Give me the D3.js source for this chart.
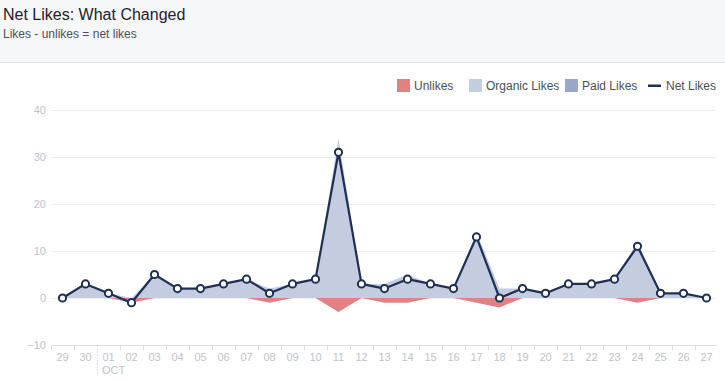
<!DOCTYPE html>
<html>
<head>
<meta charset="utf-8">
<script src="https://cdn.jsdelivr.net/npm/d3@7"></script>
<style>
  body { margin: 0; background: #fff; font-family: "Liberation Sans", Arial, sans-serif; }
  svg { display: block; }
</style>
</head>
<body>
<script>
'use strict';

// data
const days = ['29', '30', '01', '02', '03', '04', '05', '06', '07', '08', '09', '10', '11', '12',
    '13', '14', '15', '16', '17', '18', '19', '20', '21', '22', '23', '24', '25', '26', '27'];
const netLikes = [0, 3, 1, -1, 5, 2, 2, 3, 4, 1, 3, 4, 31, 3, 2, 4, 3, 2, 13, 0, 2, 1, 3, 3, 4, 11, 1, 1, 0];
const unlikes  = [0, 0, 0, 1, 0, 0, 0, 0, 0, 1, 0, 0, 3, 0, 1, 1, 0, 0, 1, 2, 0, 0, 0, 0, 0, 1, 0, 0, 0];
const paidLikes = [0, 0, 0, 0, 0, 0, 0, 0, 0, 0, 0, 0, 0, 0, 0, 0, 0, 0, 0, 0, 0, 0, 0, 0, 0, 0, 0, 0, 0];
const yTicks = [-10, 0, 10, 20, 30, 40];
const monthLabel = 'OCT';
const monthStart = '01';

const W = 725, H = 380;
const svg = d3.select('body').append('svg').attr('width', W).attr('height', H);

// header
svg.append('rect').attr('width', W).attr('height', 62).attr('fill', '#f6f7f9');
svg.append('line').attr('x1', 0).attr('x2', W).attr('y1', 62.5).attr('y2', 62.5)
    .attr('stroke', '#dddfe2');
svg.append('text').attr('x', 3).attr('y', 20).text('Net Likes: What Changed')
    .style('font-size', '16px').attr('fill', '#1d2129');
svg.append('text').attr('x', 3).attr('y', 38).text('Likes - unlikes = net likes')
    .style('font-size', '12px').attr('fill', '#4b4f56');

const data = days.map((d, i) => ({
    day: d,
    net: netLikes[i],
    unlikes: unlikes[i],
    paid: paidLikes[i],
    organic: netLikes[i] + unlikes[i] - paidLikes[i]
}));

const x = d3.scaleBand().domain(days).range([51, 718]);
const y = d3.scaleLinear().domain([-10, 40]).range([345, 110]);
const cx = d => x(d.day) + x.bandwidth() / 2;

// grid
svg.append('g').selectAll('line').data(yTicks.filter(t => t > -10)).enter()
    .append('line')
    .attr('x1', 51).attr('x2', 716)
    .attr('y1', d => Math.round(y(d)) + 0.5).attr('y2', d => Math.round(y(d)) + 0.5)
    .attr('stroke', '#eceef1');

// y labels
const yAxis = svg.append('g').attr('transform', 'translate(46,0)')
    .call(d3.axisLeft(y).tickValues(yTicks).tickSize(0).tickPadding(0));
yAxis.select('.domain').remove();
yAxis.selectAll('text').attr('fill', '#bec3c9').style('font-size', '11px')
    .style('font-family', '"Liberation Sans", Arial, sans-serif');

// areas
const area = d3.area().x(cx).curve(d3.curveLinear);
svg.append('path').datum(data)
    .attr('d', area.y0(y(0)).y1(d => y(-d.unlikes)))
    .attr('fill', '#e08182');
svg.append('path').datum(data)
    .attr('d', area.y0(y(0)).y1(d => y(d.organic)))
    .attr('fill', '#c4cce0');
svg.append('path').datum(data)
    .attr('d', area.y0(d => y(d.organic)).y1(d => y(d.organic + d.paid)))
    .attr('fill', '#9aa8c8');

// x axis
const axisY = 345.5;
svg.append('line').attr('x1', 51).attr('x2', 717).attr('y1', axisY).attr('y2', axisY)
    .attr('stroke', '#dddfe2');
svg.append('g').selectAll('line').data(days.filter(d => d !== monthStart)).enter()
    .append('line')
    .attr('x1', d => x(d) + 0.5).attr('x2', d => x(d) + 0.5)
    .attr('y1', axisY).attr('y2', axisY + 5)
    .attr('stroke', '#dddfe2');
svg.append('line')
    .attr('x1', x(monthStart) + 0.5).attr('x2', x(monthStart) + 0.5)
    .attr('y1', axisY).attr('y2', 376)
    .attr('stroke', '#bec3c9').attr('stroke-dasharray', '1,2');
svg.append('g').selectAll('text').data(days).enter()
    .append('text')
    .attr('x', d => x(d) + x.bandwidth() / 2).attr('y', 361)
    .attr('text-anchor', 'middle')
    .style('font-size', '11px').attr('fill', '#bec3c9')
    .text(d => d);
svg.append('text').attr('x', x(monthStart) + 5).attr('y', 374)
    .style('font-size', '11px').attr('fill', '#bec3c9').text(monthLabel);

// net line + markers
const line = d3.line().x(cx).y(d => y(d.net));
svg.append('path').datum(data).attr('d', line)
    .attr('fill', 'none').attr('stroke', '#1f2f55').attr('stroke-width', 2.2)
    .attr('stroke-linejoin', 'round');
svg.append('g').selectAll('circle').data(data).enter()
    .append('circle')
    .attr('cx', cx).attr('cy', d => y(d.net)).attr('r', 3.6)
    .attr('fill', '#fff').attr('stroke', '#1f2f55').attr('stroke-width', 2);

// legend
const legend = [
    {name: 'Unlikes', type: 'box', color: '#e08182', x: 397},
    {name: 'Organic Likes', type: 'box', color: '#c4cce0', x: 469},
    {name: 'Paid Likes', type: 'box', color: '#9aa8c8', x: 565},
    {name: 'Net Likes', type: 'line', color: '#1f2f55', x: 648}
];
const lg = svg.append('g').selectAll('g').data(legend).enter()
    .append('g').attr('transform', d => `translate(${d.x},79)`);
lg.filter(d => d.type === 'box').append('rect')
    .attr('width', 13).attr('height', 13).attr('fill', d => d.color);
lg.filter(d => d.type === 'line').append('rect')
    .attr('y', 5.5).attr('width', 13).attr('height', 2.5).attr('fill', d => d.color);
lg.append('text').attr('x', d => d.type === 'line' ? 18 : 17).attr('y', 11)
    .style('font-size', '12px').attr('fill', '#4b4f56').text(d => d.name);
</script>
</body>
</html>
